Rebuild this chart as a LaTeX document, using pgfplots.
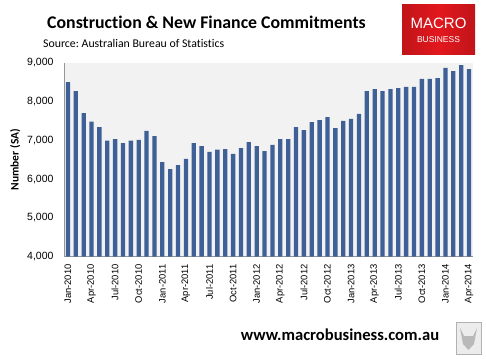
\documentclass[border=0pt]{standalone}
\usepackage{pgfplots}
\pgfplotsset{compat=1.18}
\usepackage{fontspec}
\setmainfont{Carlito}[Ligatures=CommonOff]
\newfontfamily\arialf{Liberation Sans}
\definecolor{barblue}{RGB}{62,96,150}
\definecolor{bggray}{RGB}{242,242,242}
\definecolor{mbred}{RGB}{226,24,30}
\definecolor{axgray}{RGB}{150,150,150}
\frenchspacing
\begin{document}
\begin{tikzpicture}[x=1pt,y=1pt]
\path[use as bounding box] (0,0) rectangle (486,358);
\begin{axis}[
  at={(64pt,101.3pt)}, anchor=south west,
  scale only axis, width=409pt, height=194pt,
  xmin=-0.5, xmax=51.5, ymin=4000, ymax=9000,
  ybar, bar width=4.3pt,
  axis background/.style={fill=bggray},
  axis x line*=bottom, axis y line*=left,
  axis line style={axgray, line width=0.8pt},
  ytick={4000,5000,6000,7000,8000,9000},
  scaled y ticks=false,
  /pgf/number format/1000 sep={,},
  /pgf/number format/assume math mode=true,
  yticklabel style={font=\arialf\fontsize{10.5}{12}\selectfont, xshift=-7pt},
  ytick style={draw=none},
  xtick={0,3,...,51},
  xticklabels={Jan-2010,Apr-2010,Jul-2010,Oct-2010,Jan-2011,Apr-2011,Jul-2011,Oct-2011,Jan-2012,Apr-2012,Jul-2012,Oct-2012,Jan-2013,Apr-2013,Jul-2013,Oct-2013,Jan-2014,Apr-2014},
  xticklabel style={font=\arialf\fontsize{9.4}{10}\selectfont, rotate=90, anchor=east, yshift=0pt},
  xtick style={draw=none},
  extra x ticks={2.5,5.5,8.5,11.5,14.5,17.5,20.5,23.5,26.5,29.5,32.5,35.5,38.5,41.5,44.5,47.5,50.5},
  extra x tick labels={},
  extra x tick style={tick align=inside, major tick length=3pt, tick style={draw=axgray}},
  ylabel={\bfseries Number (SA)},
  ylabel style={font=\fontsize{11.5}{13}\selectfont, yshift=0pt},
  clip=true,
]
\addplot[fill=barblue, draw=none] coordinates {
(0,8500) (1,8270) (2,7700) (3,7480) (4,7340) (5,6990) (6,7030) (7,6930) (8,6990) (9,7010) (10,7240) (11,7110)
(12,6440) (13,6260) (14,6360) (15,6520) (16,6930) (17,6850) (18,6700) (19,6760) (20,6775) (21,6650) (22,6800) (23,6955)
(24,6850) (25,6720) (26,6880) (27,7030) (28,7030) (29,7340) (30,7265) (31,7470) (32,7520) (33,7600) (34,7315) (35,7500)
(36,7550) (37,7680) (38,8270) (39,8320) (40,8270) (41,8320) (42,8345) (43,8375) (44,8375) (45,8580) (46,8580) (47,8605)
(48,8865) (49,8785) (50,8940) (51,8835)
};
\end{axis}
% title and source
\node[anchor=west, font=\bfseries\fontsize{17.8}{20}\selectfont, inner sep=0] at (47,336) {Construction \& New Finance Commitments};
\node[anchor=west, font=\fontsize{11.8}{13}\selectfont, inner sep=0] at (43,315) {Source: Australian Bureau of Statistics};
% logo
\shade[left color=mbred!85!black, right color=mbred!85!black, middle color=mbred] (402,303) rectangle (475,353);
\node[text=white, font=\arialf\fontsize{15}{16}\selectfont, inner sep=0] at (438.5,335) {MACRO};
\node[text=white, font=\arialf\fontsize{8.5}{9}\selectfont, inner sep=0] at (438.5,318) {BUSINESS};
% website
\node[font=\bfseries\fontsize{16.6}{18}\selectfont, inner sep=0] at (340,23) {www.macrobusiness.com.au};
% wolf picture placeholder
\draw[gray!60, fill=gray!15] (456,4) rectangle (481,36);
\fill[gray!55] (460,30) -- (464,22) -- (473,22) -- (477,30) -- (474,14) -- (468.5,8) -- (463,14) -- cycle;
\end{tikzpicture}
\end{document}
